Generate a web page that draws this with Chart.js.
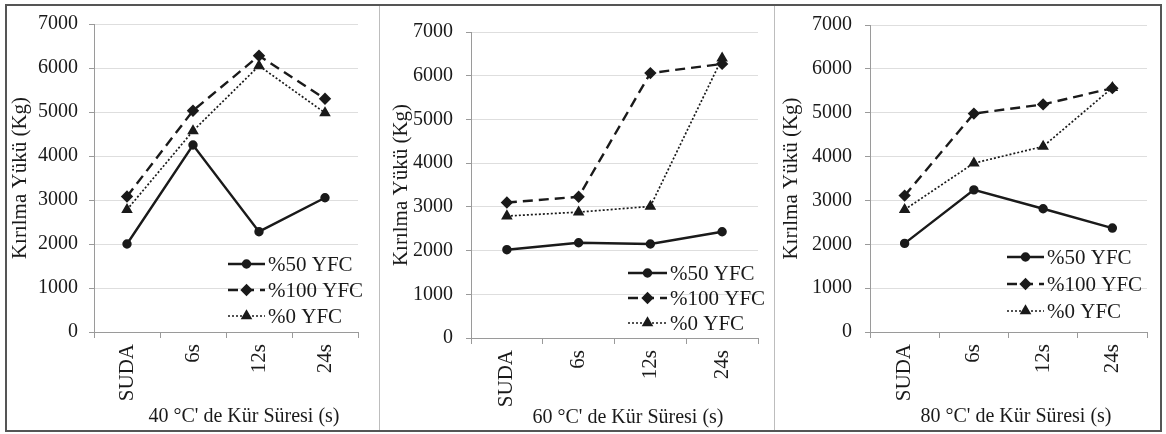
<!DOCTYPE html>
<html>
<head>
<meta charset="utf-8">
<script src="https://cdn.jsdelivr.net/npm/chart.js@4.4.1/dist/chart.umd.min.js"></script>
<style>
  html, body { margin: 0; padding: 0; background: #fff; }
  #page { position: relative; width: 1166px; height: 434px; background: #fff; overflow: hidden; }
  #frame { position: absolute; left: 5px; top: 4px; width: 1153px; height: 424px; border: 2px solid #555; }
  .sep { position: absolute; top: 6px; width: 1px; height: 424px; background: #bdbdbd; }
  .panel { position: absolute; top: 0; height: 434px; }
</style>
</head>
<body>
<div id="page">
  <div id="frame"></div>
  <div class="sep" style="left:379px"></div>
  <div class="sep" style="left:774px"></div>
  <div class="panel" style="left:7px;width:372px"><canvas id="chart40"></canvas></div>
  <div class="panel" style="left:380px;width:394px"><canvas id="chart60"></canvas></div>
  <div class="panel" style="left:775px;width:387px"><canvas id="chart80"></canvas></div>
</div>
<script>
// data
const categories = ['SUDA', '6s', '12s', '24s'];
const seriesNames = ['%50 YFC', '%100 YFC', '%0 YFC'];
const yTicks = [0, 1000, 2000, 3000, 4000, 5000, 6000, 7000];
const yTitle = 'Kırılma Yükü (Kg)';

const yfc50_40 = [2000, 4250, 2280, 3050];
const yfc100_40 = [3080, 5030, 6280, 5300];
const yfc0_40 = [2780, 4570, 6050, 4980];

const yfc50_60 = [2020, 2180, 2150, 2430];
const yfc100_60 = [3100, 3230, 6060, 6270];
const yfc0_60 = [2790, 2880, 3010, 6400];

const yfc50_80 = [2020, 3240, 2810, 2370];
const yfc100_80 = [3110, 4980, 5190, 5560];
const yfc0_80 = [2790, 3850, 4230, 5570];

const SERIF = "'Liberation Serif', 'Times New Roman', serif";
const INK = '#1a1a1a';

// line + marker look of each series
const looks = [
    { borderDash: [], borderWidth: 2.4, pointStyle: 'circle', pointRadius: 3.5 },
    { borderDash: [10, 6], borderWidth: 2.4, pointStyle: 'rectRot', pointRadius: 4.5 },
    { borderDash: [2, 2], borderWidth: 1.7, pointStyle: 'triangle', pointRadius: 5 }
];

// legend drawn inside the plot area, Excel style, plus the x title
const insideLegend = {
    id: 'insideLegend',
    afterDraw(chart, args, opts) {
        const ctx = chart.ctx;
        ctx.save();
        chart.data.datasets.forEach(function(ds, i) {
            const y = opts.y + i * opts.gap;
            ctx.strokeStyle = INK;
            ctx.fillStyle = INK;
            ctx.lineWidth = ds.borderWidth;
            ctx.setLineDash(ds.borderDash);
            ctx.beginPath();
            ctx.moveTo(opts.x0, y);
            ctx.lineTo(opts.x1, y);
            ctx.stroke();
            ctx.setLineDash([]);
            Chart.helpers.drawPoint(ctx, {
                pointStyle: ds.pointStyle,
                radius: ds.pointRadius,
                rotation: 0,
                borderWidth: 1
            }, (opts.x0 + opts.x1) / 2, y);
            ctx.font = '21px ' + SERIF;
            ctx.textBaseline = 'middle';
            ctx.textAlign = 'left';
            ctx.fillText(ds.label, opts.x1 + 3, y + 1);
        });
        // x axis title, placed a bit right of centre like the original
        ctx.font = '20px ' + SERIF;
        ctx.textAlign = 'center';
        ctx.textBaseline = 'middle';
        ctx.fillText(opts.xTitle, opts.titleX, opts.titleY);
        ctx.restore();
    }
};

function makeChart(id, values, xTitle, lay) {
    const ctx = document.getElementById(id).getContext('2d');
    return new Chart(ctx, {
        type: 'line',
        data: {
            labels: categories,
            datasets: values.map(function(v, i) {
                return Object.assign({
                    label: seriesNames[i],
                    data: v,
                    borderColor: INK,
                    backgroundColor: INK,
                    pointBackgroundColor: INK,
                    pointBorderColor: INK,
                    tension: 0,
                    fill: false
                }, looks[i]);
            })
        },
        options: {
            responsive: true,
            maintainAspectRatio: false,
            animation: false,
            layout: {
                padding: { left: 0, right: lay.right, top: lay.top, bottom: 8 }
            },
            plugins: {
                legend: { display: false },
                tooltip: { enabled: false },
                insideLegend: Object.assign({ xTitle: xTitle }, lay.legend)
            },
            scales: {
                x: {
                    offset: true,
                    grid: {
                        display: true,
                        drawOnChartArea: false,
                        drawTicks: true,
                        tickLength: 6,
                        tickColor: '#9a9a9a',
                        offset: true
                    },
                    border: { display: true, color: '#9a9a9a', width: 1 },
                    ticks: {
                        color: INK,
                        font: { family: SERIF, size: 21 },
                        minRotation: 90,
                        maxRotation: 90,
                        padding: 6
                    },
                    title: { display: false },
                    afterFit: function(scale) { scale.height = lay.xHeight; }
                },
                y: {
                    min: 0,
                    max: 7000,
                    afterBuildTicks: function(scale) {
                        scale.ticks = yTicks.map(function(v) { return { value: v }; });
                    },
                    grid: {
                        color: '#dedede',
                        lineWidth: 1,
                        drawTicks: true,
                        tickLength: 5,
                        tickColor: '#9a9a9a'
                    },
                    border: { display: true, color: '#9a9a9a', width: 1 },
                    ticks: {
                        color: INK,
                        font: { family: SERIF, size: 20 },
                        padding: lay.tickPad,
                        callback: function(value) { return String(value); }
                    },
                    title: {
                        display: true,
                        text: yTitle,
                        color: INK,
                        font: { family: SERIF, size: 21 },
                        padding: { top: lay.titlePad, bottom: 0 }
                    },
                    afterFit: function(scale) { scale.width = lay.yWidth; }
                }
            }
        },
        plugins: [insideLegend]
    });
}

document.addEventListener('DOMContentLoaded', function() {
    makeChart('chart40', [yfc50_40, yfc100_40, yfc0_40], "40 °C' de Kür Süresi (s)", {
        right: 21, top: 24, xHeight: 94, yWidth: 87, tickPad: 11, titlePad: 1,
        legend: { x0: 221, x1: 258, y: 264, gap: 26, titleX: 237, titleY: 417 }
    });
    makeChart('chart60', [yfc50_60, yfc100_60, yfc0_60], "60 °C' de Kür Süresi (s)", {
        right: 16, top: 32, xHeight: 88, yWidth: 91, tickPad: 13, titlePad: 9,
        legend: { x0: 248, x1: 287, y: 273, gap: 25, titleX: 248, titleY: 418 }
    });
    makeChart('chart80', [yfc50_80, yfc100_80, yfc0_80], "80 °C' de Kür Süresi (s)", {
        right: 15, top: 19, xHeight: 94, yWidth: 95, tickPad: 13, titlePad: 4,
        legend: { x0: 232, x1: 269, y: 257, gap: 27, titleX: 241, titleY: 417 }
    });
});
</script>
</body>
</html>
